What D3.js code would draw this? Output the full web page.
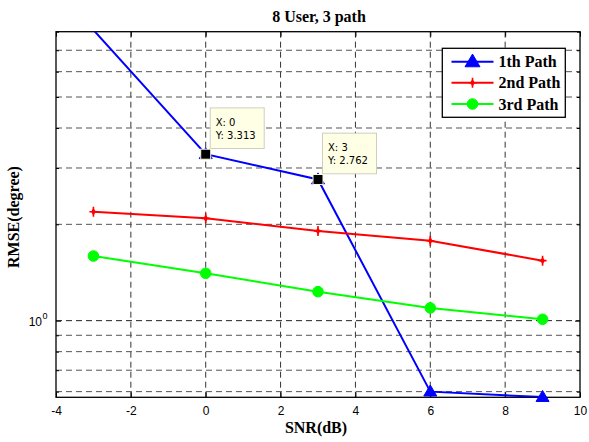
<!DOCTYPE html>
<html><head><meta charset="utf-8">
<script src="https://cdn.jsdelivr.net/npm/d3@7"></script>
<style>body{margin:0;background:#fff}</style>
</head><body><svg id="c" width="589" height="442"></svg>
<script>
const snr = [-3, 0, 3, 6, 9];
const path1 = [8.1, 3.313, 2.762, 0.60, 0.577];
const path2 = [2.19, 2.088, 1.906, 1.777, 1.54];
const path3 = [1.592, 1.406, 1.232, 1.096, 1.01];
const seriesNames = ["1th Path", "2nd Path", "3rd Path"];
const xTicks = [-4, -2, 0, 2, 4, 6, 8, 10];
const yMinorTicks = [0.6, 0.7, 0.8, 0.9, 2, 3, 4, 5, 6, 7, 8];
const yMajorTicks = [1];
const tipX = [0, 3];
const tipY = [3.313, 2.762];
const title = "8 User, 3 path";
const xLabel = "SNR(dB)";
const yLabel = "RMSE(degree)";

const svg = d3.select("#c");
const L = 56, R = 580, T = 31.7, B = 397.3;
const x = d3.scaleLinear().domain([-4, 10]).range([L, R]);
const y = d3.scaleLog().domain([0.576, 8]).range([B, T]);

svg.append("rect").attr("width", 589).attr("height", 442).attr("fill", "#fff");
svg.append("defs").append("clipPath").attr("id", "clip")
  .append("rect").attr("x", L).attr("y", T).attr("width", R - L).attr("height", B - T);

const grid = svg.append("g");
// vertical grid
grid.selectAll("line.vx").data(xTicks.slice(1, -1)).join("line")
  .attr("x1", d => x(d)).attr("x2", d => x(d)).attr("y1", T).attr("y2", B)
  .attr("stroke", "#333").attr("stroke-width", 1).attr("stroke-dasharray", "6,4");
// horizontal grid
grid.selectAll("line.hy").data(yMinorTicks.concat(yMajorTicks).filter(v => v < 8)).join("line")
  .attr("x1", L).attr("x2", R).attr("y1", d => y(d)).attr("y2", d => y(d))
  .attr("stroke", d => yMajorTicks.includes(d) ? "#222" : "#555")
  .attr("stroke-width", 1).attr("stroke-dasharray", "6,4");

// axes
const fontSans = "'Liberation Sans', Arial, sans-serif";
const fontSerif = "'Liberation Serif', 'Times New Roman', serif";
const axB = svg.append("g").attr("transform", `translate(0,${B})`)
  .call(d3.axisBottom(x).tickValues(xTicks).tickSizeInner(-5).tickSizeOuter(0).tickPadding(9).tickFormat(d => String(d)));
const axT = svg.append("g").attr("transform", `translate(0,${T})`)
  .call(d3.axisTop(x).tickValues(xTicks).tickSizeInner(-5).tickSizeOuter(0).tickFormat(""));
const axL1 = svg.append("g").attr("transform", `translate(${L},0)`)
  .call(d3.axisLeft(y).tickValues(yMinorTicks).tickSizeInner(-3).tickSizeOuter(0).tickFormat(""));
const axL2 = svg.append("g").attr("transform", `translate(${L},0)`)
  .call(d3.axisLeft(y).tickValues(yMajorTicks).tickSizeInner(-5).tickSizeOuter(0).tickFormat(""));
const axR1 = svg.append("g").attr("transform", `translate(${R},0)`)
  .call(d3.axisRight(y).tickValues(yMinorTicks).tickSizeInner(-3).tickSizeOuter(0).tickFormat(""));
const axR2 = svg.append("g").attr("transform", `translate(${R},0)`)
  .call(d3.axisRight(y).tickValues(yMajorTicks).tickSizeInner(-5).tickSizeOuter(0).tickFormat(""));
[axB, axT, axL1, axL2, axR1, axR2].forEach(a => {
  a.select(".domain").remove();
  a.selectAll("line").attr("stroke", "#000");
  a.selectAll("text").attr("font-family", fontSans).attr("font-size", 12).attr("fill", "#000");
});
// 10^0 label
yMajorTicks.forEach(v => {
  const t = svg.append("text").attr("x", 42).attr("y", y(v) + 5.5)
    .attr("font-family", fontSans).attr("font-size", 12).attr("text-anchor", "end").text("10");
  svg.append("text").attr("x", 42.5).attr("y", y(v) - 1.5)
    .attr("font-family", fontSans).attr("font-size", 9).text(String(Math.round(Math.log10(v))));
});
// frame
svg.append("rect").attr("x", L).attr("y", T).attr("width", R - L).attr("height", B - T)
  .attr("fill", "none").attr("stroke", "#000").attr("stroke-width", 1.3);

// series
const series = [
  {name: seriesNames[0], vals: path1, color: "#0000ff", marker: "tri"},
  {name: seriesNames[1], vals: path2, color: "#ff0000", marker: "star"},
  {name: seriesNames[2], vals: path3, color: "#00ff00", marker: "circ"}
];
const line = d3.line().x((d, i) => x(snr[i])).y(d => y(d));
function drawMarker(g, type, color, cx, cy, scale) {
  scale = scale || 1;
  if (type === "tri") {
    const w = 13 * scale, h = 11 * scale;
    g.append("path").attr("d", `M${cx},${cy - h * 0.6}L${cx + w / 2},${cy + h * 0.4}L${cx - w / 2},${cy + h * 0.4}Z`)
      .attr("fill", color).attr("stroke", color).attr("stroke-width", 1);
  } else if (type === "circ") {
    g.append("circle").attr("cx", cx).attr("cy", cy).attr("r", 5.3 * scale).attr("fill", color).attr("stroke", color);
  } else {
    g.append("path").attr("d", d3.symbol(d3.symbolDiamond, 18 * scale)()).attr("transform", `translate(${cx},${cy})`)
      .attr("fill", color);
    g.append("path").attr("d", `M${cx},${cy - 5}V${cy + 5}M${cx - 4},${cy}H${cx + 4}`)
      .attr("stroke", color).attr("stroke-width", 1.6);
  }
}
series.forEach(s => {
  svg.append("path").datum(s.vals).attr("d", line).attr("fill", "none")
    .attr("stroke", s.color).attr("stroke-width", 2).attr("clip-path", "url(#clip)");
  const g = svg.append("g");
  s.vals.forEach((v, i) => {
    if (v >= y.domain()[0] && v <= y.domain()[1]) drawMarker(g, s.marker, s.color, x(snr[i]), y(v));
  });
});

// data tips
tipX.forEach((tx, i) => {
  const px = x(tx), py = y(tipY[i]);
  const g = svg.append("g");
  g.append("rect").attr("x", px + 4.5).attr("y", py - 46.3).attr("width", 54).attr("height", 40.6)
    .attr("fill", "#ffffe6").attr("stroke", "#cfcfc0").attr("stroke-width", 1);
  g.append("text").attr("x", px + 10).attr("y", py - 28.5).attr("font-family", "'DejaVu Sans', sans-serif")
    .attr("font-size", 10).text("X: " + tx);
  g.append("text").attr("x", px + 10).attr("y", py - 15.5).attr("font-family", "'DejaVu Sans', sans-serif")
    .attr("font-size", 10).text("Y: " + tipY[i]);
  g.append("rect").attr("x", px - 5).attr("y", py - 5).attr("width", 10).attr("height", 10)
    .attr("fill", "#000").attr("stroke", "#fffbd0").attr("stroke-width", 1);
});

// legend
const lg = svg.append("g");
lg.append("rect").attr("x", 442.3).attr("y", 48.3).attr("width", 123).attr("height", 69)
  .attr("fill", "#fff").attr("stroke", "#000").attr("stroke-width", 1.3);
const rowY = [61.7, 82.7, 104];
series.forEach((s, i) => {
  lg.append("line").attr("x1", 451.5).attr("x2", 493.5).attr("y1", rowY[i]).attr("y2", rowY[i])
    .attr("stroke", s.color).attr("stroke-width", 2);
  drawMarker(lg, s.marker, s.color, 472.5, rowY[i], s.marker === "tri" ? 1.15 : 1);
  lg.append("text").attr("x", 498.5).attr("y", rowY[i] + 5.5).attr("font-family", fontSerif)
    .attr("font-weight", "bold").attr("font-size", 16).text(s.name);
});

// titles
svg.append("text").attr("x", 319).attr("y", 21.5).attr("text-anchor", "middle")
  .attr("font-family", fontSerif).attr("font-weight", "bold").attr("font-size", 16).text(title);
svg.append("text").attr("x", 316).attr("y", 433).attr("text-anchor", "middle")
  .attr("font-family", fontSerif).attr("font-weight", "bold").attr("font-size", 16).text(xLabel);
svg.append("text").attr("transform", "translate(18.5,217) rotate(-90)").attr("text-anchor", "middle")
  .attr("font-family", fontSerif).attr("font-weight", "bold").attr("font-size", 16).text(yLabel);
</script></body></html>
